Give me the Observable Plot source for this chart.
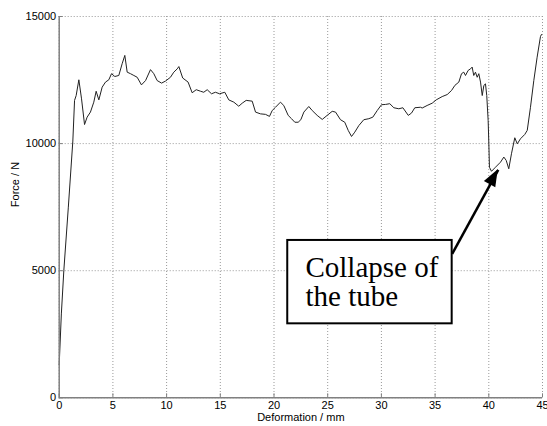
<!DOCTYPE html>
<html>
<head>
<meta charset="utf-8">
<script src="https://cdn.jsdelivr.net/npm/d3@7"></script>
<script src="https://cdn.jsdelivr.net/npm/@observablehq/plot@0.6"></script>
<style>
  html, body { margin: 0; padding: 0; background: #fff; }
  #chart svg { display: block; }
</style>
</head>
<body>
<div id="chart"></div>
<script>
// Deformation (mm) and Force (N)
const deformation = [0.0, 0.2, 0.43, 0.85, 1.27, 1.43, 1.58, 1.83, 2.08, 2.36, 2.6, 2.91, 3.22, 3.44, 3.69, 4.0, 4.31, 4.62, 4.87, 5.18, 5.55, 5.86, 6.11, 6.33, 6.64, 6.95, 7.26, 7.66, 8.04, 8.5, 8.81, 9.12, 9.53, 9.9, 10.36, 10.67, 10.99, 11.14, 11.5, 12.0, 12.38, 12.76, 13.16, 13.46, 13.78, 14.18, 14.55, 14.93, 15.42, 15.79, 16.26, 16.72, 17.04, 17.41, 17.97, 18.28, 18.74, 19.21, 19.58, 19.83, 20.14, 20.6, 20.91, 21.32, 21.63, 21.94, 22.25, 22.5, 22.78, 23.24, 23.56, 24.02, 24.49, 24.95, 25.42, 25.73, 26.19, 26.59, 26.91, 27.22, 27.52, 27.9, 28.36, 28.83, 29.2, 29.61, 30.01, 30.38, 30.78, 31.16, 31.62, 32.0, 32.5, 32.8, 33.11, 33.64, 33.8, 34.26, 34.73, 35.1, 35.66, 36.13, 36.53, 36.84, 37.21, 37.46, 37.67, 37.83, 38.08, 38.3, 38.45, 38.6, 38.76, 38.92, 39.07, 39.23, 39.39, 39.54, 39.69, 39.81, 39.94, 40.0, 40.06, 40.25, 40.62, 41.09, 41.4, 41.62, 41.86, 42.11, 42.42, 42.65, 42.95, 43.35, 43.58, 43.88, 44.19, 44.5, 44.81, 44.9];
const force = [1300, 3300, 5000, 7500, 10100, 11700, 11890, 12510, 11760, 10750, 11040, 11240, 11630, 12060, 11720, 12220, 12420, 12510, 12750, 12640, 12680, 13140, 13470, 12810, 12750, 12680, 12610, 12310, 12480, 12910, 12750, 12480, 12380, 12460, 12610, 12810, 12940, 13030, 12580, 12420, 12000, 12120, 12060, 12020, 12120, 11960, 12020, 11960, 12020, 11720, 11630, 11470, 11590, 11700, 11670, 11240, 11170, 11150, 11070, 11300, 11430, 11630, 11500, 11110, 10980, 10840, 10840, 10940, 11240, 11460, 11300, 11110, 10950, 11110, 11270, 11240, 10940, 10840, 10520, 10280, 10450, 10710, 10940, 10980, 11040, 11300, 11530, 11540, 11570, 11410, 11370, 11410, 11110, 11200, 11410, 11430, 11400, 11500, 11590, 11720, 11850, 11930, 12090, 12290, 12420, 12750, 12810, 12680, 12880, 12940, 13010, 12680, 12810, 12610, 12750, 12420, 11890, 12290, 12350, 11890, 10910, 10060, 9070, 8910, 9070, 9270, 9470, 9340, 9010, 9600, 10230, 9990, 10190, 10360, 10520, 11430, 12480, 13400, 14210, 14290];

const xTicks = [0, 5, 10, 15, 20, 25, 30, 35, 40, 45];
const yTicks = [0, 5000, 10000, 15000];
const xLabel = "Deformation / mm";
const yLabel = "Force / N";

// Annotation (in data units)
const noteText = ["Collapse of", "the tube"];
const noteBoxX = [21.28, 36.59];
const noteBoxY = [2910, 6190];
const noteTextAt = [22.93, 4560];
const arrowFrom = [36.59, 5665];
const arrowTo = [40.88, 8970];

const data = deformation.map((d, i) => ({x: d, y: force[i]}));

const W = 547, H = 426;
const fig = Plot.plot({
  width: W,
  height: H,
  marginLeft: 58.7,
  marginRight: 5,
  marginTop: 16,
  marginBottom: 28.7,
  style: {fontFamily: "'Liberation Sans', Arial, sans-serif", fontSize: "11px", background: "#fff", color: "#000"},
  x: {domain: [0, 45], ticks: xTicks, label: null},
  y: {domain: [0, 15000], ticks: yTicks, label: null},
  marks: [
    Plot.gridX(xTicks, {stroke: "#999", strokeOpacity: 1, strokeDasharray: "1,2"}),
    Plot.gridY(yTicks, {stroke: "#999", strokeOpacity: 1, strokeDasharray: "1,2"}),
    Plot.line(data, {x: "x", y: "y", stroke: "#222", strokeWidth: 1}),
    Plot.ruleX([0], {stroke: "#808080", strokeWidth: 1.5}),
    Plot.ruleY([0], {stroke: "#808080", strokeWidth: 1.5}),
    Plot.axisX(xTicks, {tickSize: -4, tickPadding: 7, stroke: "#808080", fill: "#000", fontSize: 11, tickFormat: d => String(d)}),
    Plot.axisY(yTicks, {tickSize: -4, tickPadding: 7, stroke: "#808080", fill: "#000", fontSize: 11, tickFormat: d => String(d)}),
    Plot.text([xLabel], {frameAnchor: "bottom", dy: 23, text: d => d, fontSize: 11, fill: "#000"}),
    Plot.text([yLabel], {frameAnchor: "left", dx: -44, rotate: -90, text: d => d, fontSize: 11, fill: "#000"}),
    Plot.rect([{x1: noteBoxX[0], x2: noteBoxX[1], y1: noteBoxY[0], y2: noteBoxY[1]}],
      {x1: "x1", x2: "x2", y1: "y1", y2: "y2", fill: "#fff", stroke: "#000", strokeWidth: 2}),
    Plot.text([noteText.join("\n")], {x: noteTextAt[0], y: noteTextAt[1], text: d => d, textAnchor: "start",
      fontFamily: "'Liberation Serif', 'Times New Roman', serif", fontSize: 29, lineHeight: 1.0, fill: "#000"}),
    Plot.link([{x1: arrowFrom[0], y1: arrowFrom[1], x2: arrowTo[0], y2: arrowTo[1]}],
      {x1: "x1", y1: "y1", x2: "x2", y2: "y2", stroke: "#000", strokeWidth: 2.5})
  ]
});

// Filled arrowhead, positioned through the plot's own scales
const sx = fig.scale("x"), sy = fig.scale("y");
const ax0 = sx.apply(arrowFrom[0]), ay0 = sy.apply(arrowFrom[1]);
const ax1 = sx.apply(arrowTo[0]), ay1 = sy.apply(arrowTo[1]);
const len = Math.hypot(ax1 - ax0, ay1 - ay0);
const ux = (ax1 - ax0) / len, uy = (ay1 - ay0) / len;
const hl = 17, hw = 6.5;
const bx = ax1 - hl * ux, by = ay1 - hl * uy;
d3.select(fig).append("polygon")
  .attr("points", [[ax1, ay1], [bx + hw * uy, by - hw * ux], [bx - hw * uy, by + hw * ux]].map(p => p.join(",")).join(" "))
  .attr("fill", "#000");

document.getElementById("chart").appendChild(fig);
</script>
</body>
</html>
